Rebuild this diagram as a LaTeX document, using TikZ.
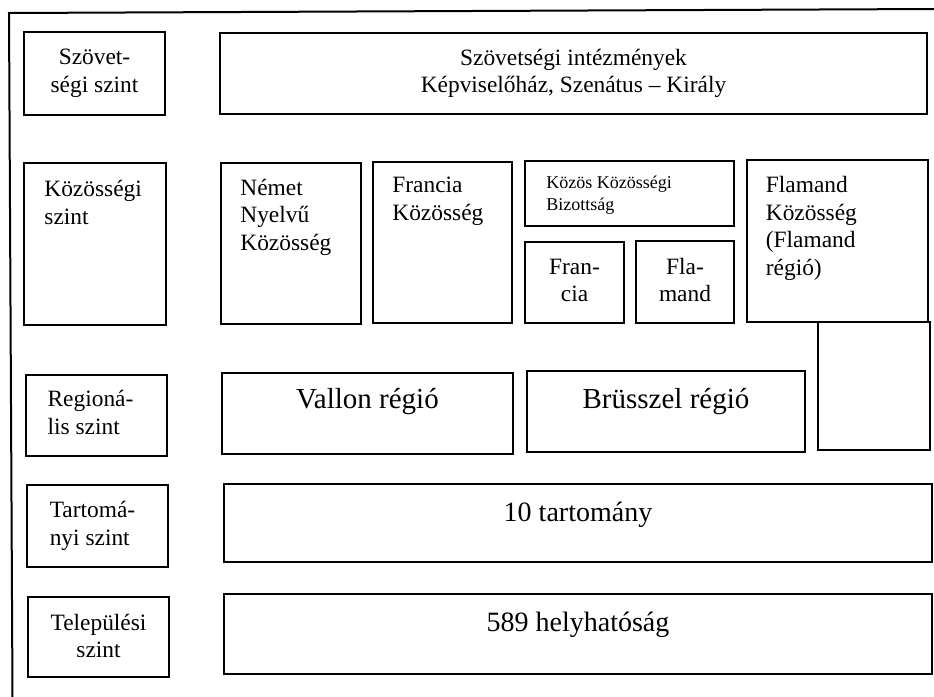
\documentclass[tikz,border=0pt]{standalone}
\usepackage{fontspec}
\setmainfont{Liberation Serif}
\usetikzlibrary{fit}

\newcommand{\szintbetu}{\fontsize{11.7}{13.8}\selectfont}
\newcommand{\kisbetu}{\fontsize{9}{10.7}\selectfont}
\newcommand{\nagybetu}{\fontsize{14.5}{17}\selectfont}
\newcommand{\szambetu}{\fontsize{14}{17}\selectfont}

\begin{document}
\begin{tikzpicture}[x=0.5pt,y=-0.5pt,
    box/.style={draw,line width=1pt,inner sep=0pt},
    lbl/.style={font=\szintbetu,align=center,inner sep=0pt},
    toplbl/.style={font=\szintbetu,align=left,anchor=north west,inner sep=0pt},
    nagy/.style={font=\nagybetu,anchor=base,inner sep=0pt}]
    \useasboundingbox (0,0) rectangle (934,697);
    % frame
    \draw[line width=1pt] (12.5,697) -- (9,13) -- (934,9);

    % szintek
    \node[box,fit={(24,32) (165,115)}] (szovszint) {};
    \node[lbl] (szovszintlbl) at (szovszint) {Szövet-\\ségi szint};
    \node[box,fit={(24,163) (166,325)}] (kozszint) {};
    \node[toplbl] (kozszintlbl) at ([shift={(21,18)}]kozszint.north west) {Közösségi\\szint};
    \node[box,fit={(26,375) (167,456)}] (regszint) {};
    \node[lbl,align=left] (regszintlbl) at ([shift={(-6,-3)}]regszint) {Regioná-\\lis szint};
    \node[box,fit={(27,485) (168,567)}] (tartszint) {};
    \node[lbl,align=left] (tartszintlbl) at ([shift={(-5,0)}]tartszint) {Tartomá-\\nyi szint};
    \node[box,fit={(28,597) (169,677)}] (telszint) {};
    \node[lbl] (telszintlbl) at ([shift={(0,-1)}]telszint) {Települési\\szint};

    % szovetsegi
    \node[box,fit={(220,32.5) (927,114)}] (szovint) {};
    \node[lbl] (szovintlbl) at (szovint) {Szövetségi intézmények\\Képviselőház, Szenátus – Király};

    % kozossegek
    \node[box,fit={(221,162.5) (360.5,324)}] (nemet) {};
    \node[toplbl] (nemetlbl) at ([shift={(20,17)}]nemet.north west) {Német\\Nyelvű\\Közösség};
    \node[box,fit={(373,162) (512,323)}] (francia) {};
    \node[toplbl] (francialbl) at ([shift={(20,16)}]francia.north west) {Francia\\Közösség};
    \node[box,fit={(525,161) (734,226)}] (kozos) {};
    \node[toplbl,font=\kisbetu] (kozoslbl) at ([shift={(22,16)}]kozos.north west) {Közös Közösségi\\Bizottság};
    \node[box,fit={(525,241.5) (624,323)}] (frbiz) {};
    \node[lbl] (frbizlbl) at ([shift={(0,-2)}]frbiz) {Fran-\\cia};
    \node[box,fit={(636,241) (734,323)}] (flbiz) {};
    \node[lbl] (flbizlbl) at ([shift={(0,-2)}]flbiz) {Fla-\\mand};
    \node[box,fit={(746.5,160) (928,321.5)}] (flamand) {};
    \node[toplbl] (flamandlbl) at ([shift={(20,17)}]flamand.north west) {Flamand\\Közösség\\(Flamand\\régió)};
    \node[box,fit={(817.5,321.5) (929.5,450)}] (flamreg) {};

    % regiok
    \node[box,fit={(222,372.5) (513,454)}] (vallon) {};
    \node[nagy] (vallonlbl) at ([shift={(0,37)}]vallon.north) {Vallon régió};
    \node[box,fit={(527,371) (805,452)}] (brussz) {};
    \node[nagy] (brusszlbl) at ([shift={(0,38)}]brussz.north) {Brüsszel régió};

    % tartomanyok, telepulesek
    \node[box,fit={(224,484) (932,562)}] (tart) {};
    \node[nagy,font=\szambetu] (tartlbl) at ([shift={(0,38)}]tart.north) {10 tartomány};
    \node[box,fit={(224,594) (932,674)}] (hely) {};
    \node[nagy,font=\szambetu] (helylbl) at ([shift={(0,38)}]hely.north) {589 helyhatóság};
\end{tikzpicture}
\end{document}
